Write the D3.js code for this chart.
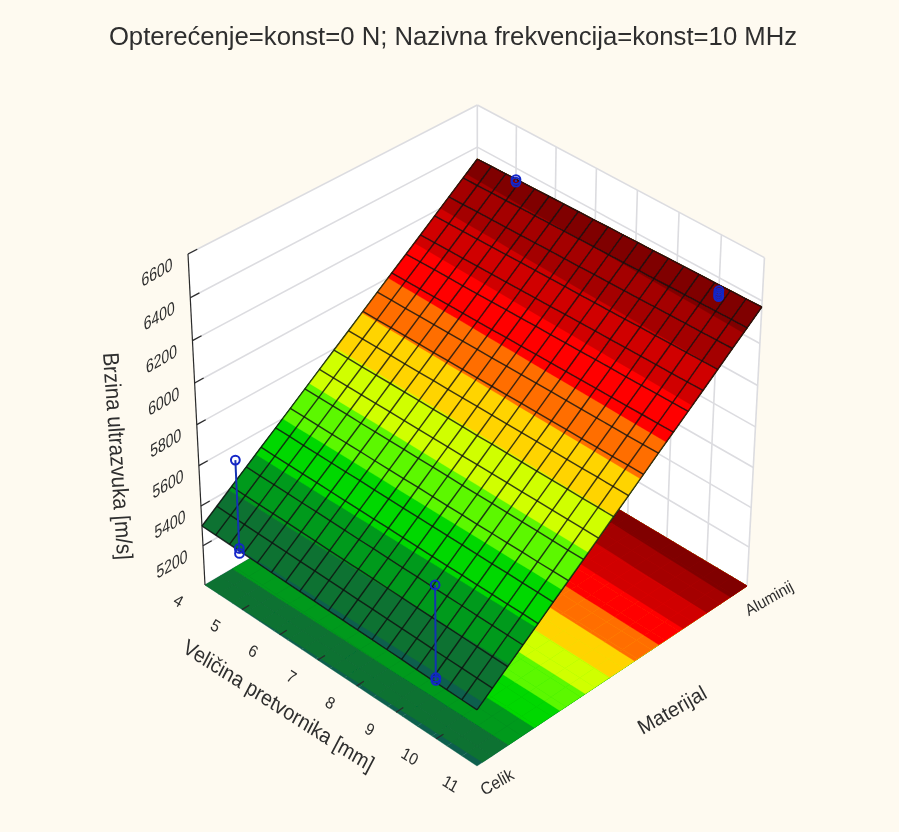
<!DOCTYPE html>
<html><head><meta charset="utf-8">
<script src="https://cdn.jsdelivr.net/npm/d3@7"></script>
<style>html,body{margin:0;padding:0;background:#fefaf0}svg{display:block}text{font-family:"Liberation Sans",Arial,sans-serif;fill:#2e2e2e}</style>
</head><body><div id="chart"></div>
<script>
const title="Opterećenje=konst=0 N; Nazivna frekvencija=konst=10 MHz";
const sizeTicks=[4,5,6,7,8,9,10,11];
const speedTicks=[5200,5400,5600,5800,6000,6200,6400,6600];
const materials=["Celik","Aluminij"];
const bandLevels=[5300,5400,5500,5600,5700,5800,5900,6000,6100,6200,6300];
const bandColors=["#0b5f4e","#0a7232","#069a1c","#00d800","#5cf800","#d0ff00","#ffd400","#ff6e00","#ff0000","#d00000","#a40000","#800000"];
// rows run from Celik to Aluminij, columns from size 4 to size 11
const surfaceSpeed=[
[5300,5299,5298,5297,5296,5294,5293,5292,5291,5290,5289,5288,5287,5286,5285,5283,5282,5281,5280,5279],
[5355,5354,5353,5352,5351,5350,5349,5348,5347,5346,5345,5344,5343,5342,5341,5340,5339,5338,5338,5337],
[5410,5409,5408,5408,5407,5406,5405,5404,5403,5403,5402,5401,5400,5399,5398,5398,5397,5396,5395,5394],
[5465,5464,5464,5463,5462,5462,5461,5460,5459,5459,5458,5457,5457,5456,5455,5455,5454,5453,5453,5452],
[5520,5519,5519,5518,5518,5517,5516,5516,5515,5515,5514,5514,5513,5512,5512,5511,5511,5510,5510,5509],
[5574,5574,5573,5573,5572,5572,5572,5571,5571,5570,5570,5570,5569,5569,5568,5568,5568,5567,5567,5567],
[5629,5629,5628,5628,5628,5628,5627,5627,5627,5627,5626,5626,5626,5625,5625,5625,5625,5624,5624,5624],
[5684,5684,5684,5684,5683,5683,5683,5683,5683,5683,5683,5682,5682,5682,5682,5682,5682,5681,5681,5681],
[5739,5739,5739,5739,5739,5739,5739,5739,5739,5739,5739,5739,5739,5739,5739,5739,5739,5739,5739,5739],
[5794,5794,5794,5794,5795,5795,5795,5795,5795,5795,5795,5796,5796,5796,5796,5796,5796,5796,5797,5797],
[5849,5849,5850,5850,5850,5850,5851,5851,5851,5852,5852,5852,5852,5853,5853,5853,5853,5854,5854,5854],
[5904,5904,5905,5905,5906,5906,5907,5907,5907,5908,5908,5909,5909,5909,5910,5910,5911,5911,5912,5912],
[5959,5960,5960,5961,5961,5962,5962,5963,5963,5964,5965,5965,5966,5966,5967,5967,5968,5968,5969,5970],
[6014,6015,6015,6016,6017,6017,6018,6019,6020,6020,6021,6022,6022,6023,6024,6024,6025,6026,6026,6027],
[6068,6069,6070,6071,6071,6072,6073,6074,6075,6076,6076,6077,6078,6079,6080,6080,6081,6082,6083,6084],
[6123,6124,6125,6126,6127,6128,6129,6130,6131,6132,6133,6134,6135,6136,6137,6138,6139,6139,6140,6141],
[6178,6179,6180,6181,6182,6184,6185,6186,6187,6188,6189,6190,6191,6192,6194,6195,6196,6197,6198,6199],
[6233,6234,6236,6237,6238,6239,6241,6242,6243,6244,6246,6247,6248,6249,6251,6252,6253,6254,6256,6257],
[6288,6289,6291,6292,6294,6295,6296,6298,6299,6301,6302,6303,6305,6306,6308,6309,6310,6312,6313,6314],
[6343,6345,6346,6348,6349,6351,6352,6354,6355,6357,6358,6360,6361,6363,6364,6366,6367,6369,6370,6372]];
const pointSize=[5,5,5,10,10,10,5,5,10,10,10,10];
const pointMaterial=[0,0,0,0,0,0,1,1,1,1,1,1];
const pointSpeed=[5745,5310,5285,5754,5305,5292,6345,6333,6340,6329,6320,6312];
const W=899,H=832,N=surfaceSpeed.length-1;
const sX=d3.scaleLinear([4,11],[0,1]),sY=d3.scalePoint(materials,[0,1]),sZ=d3.scaleLinear([5000,6600],[0,1]);
const gridU=d3.scaleLinear([0,N],[0,1]),gridV=d3.scaleLinear([0,N],[0,1]);
function proj(u,v,w){const d=-.05515*u+.06256*v-.06*w+1;
 return [(245.69*u+301.84*v-28.28*w+205)/d,(138.75*u-133.41*v-346.24*w+585)/d];}
const svg=d3.select("#chart").append("svg").attr("width",W).attr("height",H);
const f=svg.append("defs").append("filter").attr("id","soft").attr("x","-5%").attr("y","-5%").attr("width","110%").attr("height","110%");
f.append("feGaussianBlur").attr("stdDeviation",.6);
const root=svg.append("g").attr("filter","url(#soft)");
svg.insert("rect","g").attr("width",W).attr("height",H).attr("fill","#fefaf0");
const line=d3.line();
const poly=(pts,fill,g,sw)=>g.append("path").attr("d",line(pts)+"Z").attr("fill",fill).attr("stroke",fill).attr("stroke-width",sw);
// walls
poly([proj(0,0,0),proj(0,1,0),proj(0,1,1),proj(0,0,1)],"#fff",root,.6);
poly([proj(0,1,0),proj(1,1,0),proj(1,1,1),proj(0,1,1)],"#fff",root,.6);
const wall=root.append("g").attr("fill","none").attr("stroke","#dcdce0").attr("stroke-width",1.6);
const seg=(g,a,b)=>g.append("path").attr("d",line([a,b]));
speedTicks.concat([5000]).forEach(t=>{const w=sZ(t);seg(wall,proj(0,0,w),proj(0,1,w));seg(wall,proj(0,1,w),proj(1,1,w));});
sizeTicks.forEach(t=>seg(wall,proj(sX(t),1,0),proj(sX(t),1,1)));
// colour bands: each band paints everything at or above its lower level, lowest band first
function clipAbove(p,lim){const o=[];for(let i=0;i<p.length;i++){const a=p[i],b=p[(i+1)%p.length];
 const ia=a[2]>=lim,ib=b[2]>=lim;
 if(ia)o.push(a);if(ia!==ib){const t=(lim-a[2])/(b[2]-a[2]);o.push([a[0]+(b[0]-a[0])*t,a[1]+(b[1]-a[1])*t,lim]);}}return o;}
function bands(g,toW){bandColors.forEach((col,k)=>{for(let j=0;j<N;j++)for(let i=0;i<N;i++){
 let p=[[i,j],[i+1,j],[i+1,j+1],[i,j+1]].map(([a,b])=>[gridU(a),gridV(b),surfaceSpeed[b][a]]);
 if(k>0)p=clipAbove(p,bandLevels[k-1]);
 if(p.length>2)poly(p.map(q=>proj(q[0],q[1],toW(q[2]))),col,g,.35);}});}
bands(root.append("g"),()=>0);
// axes
const ax=root.append("g").attr("stroke","#2a2a2a").attr("stroke-width",1.2).attr("fill","none");
seg(ax,proj(0,0,0),proj(0,0,1));
speedTicks.forEach(t=>seg(ax,proj(0,0,sZ(t)),proj(0,.03,sZ(t))));
sizeTicks.slice(1,-1).forEach(t=>seg(ax,proj(sX(t),0,0),proj(sX(t),.025,0)));
// surface
bands(root.append("g"),z=>sZ(z));
const gl=root.append("g").attr("fill","none").attr("stroke","#101010").attr("stroke-width",1.45).attr("stroke-opacity",.8);
d3.range(N+1).forEach(i=>{
 gl.append("path").attr("d",line(d3.range(N+1).map(j=>proj(gridU(i),gridV(j),sZ(surfaceSpeed[j][i])))));
 gl.append("path").attr("d",line(d3.range(N+1).map(j=>proj(gridU(j),gridV(i),sZ(surfaceSpeed[i][j])))));});
// points
const pg=root.append("g");
d3.groups(pointSize.map((s,i)=>({s,m:pointMaterial[i],z:pointSpeed[i]})),d=>d.s+"|"+d.m).forEach(([k,a])=>{
 const e=d3.extent(a,d=>d.z),s=a[0].s,m=a[0].m;
 pg.append("path").attr("d",line([proj(sX(s),m,sZ(e[0])),proj(sX(s),m,sZ(e[1]))])).attr("stroke","#1432b4").attr("stroke-width",2).attr("fill","none");});
pointSize.forEach((s,i)=>{const p=proj(sX(s),pointMaterial[i],sZ(pointSpeed[i]));
 pg.append("circle").attr("cx",p[0]).attr("cy",p[1]).attr("r",4.4).attr("fill","none").attr("stroke","#1226c8").attr("stroke-width",2);});
// text
const label=(t,x,y,m,fs)=>root.append("text").attr("text-anchor","middle").attr("dominant-baseline","central").attr("font-size",fs)
 .attr("transform",`matrix(${m[0]},${m[1]},${m[2]},${m[3]},${x},${y})`).text(t);
root.append("text").attr("x",453).attr("y",36).attr("text-anchor","middle").attr("dominant-baseline","central").attr("font-size",25.7).attr("fill","#222").text(title);
speedTicks.forEach(t=>{const p=proj(0,0,sZ(t));label(t,p[0]-31,p[1]+18,[.87,-.5,.05,1.15],16);});
sizeTicks.forEach(t=>{const p=proj(sX(t),-.09,0);label(t,p[0],p[1],[.84,.54,-.5,.95],15.5);});
label("Brzina ultrazvuka [m/s]",118,456,[.07,1,-1.1,.07],20.5);
label("Veličina pretvornika [mm]",279,705,[.84,.54,-.5,.95],20);
label("Materijal",672,710,[.87,-.5,.5,.9],20);
label("Celik",497,782,[.87,-.5,.5,.95],16);
label("Aluminij",769,598,[.87,-.5,.5,.95],15);
</script></body></html>
